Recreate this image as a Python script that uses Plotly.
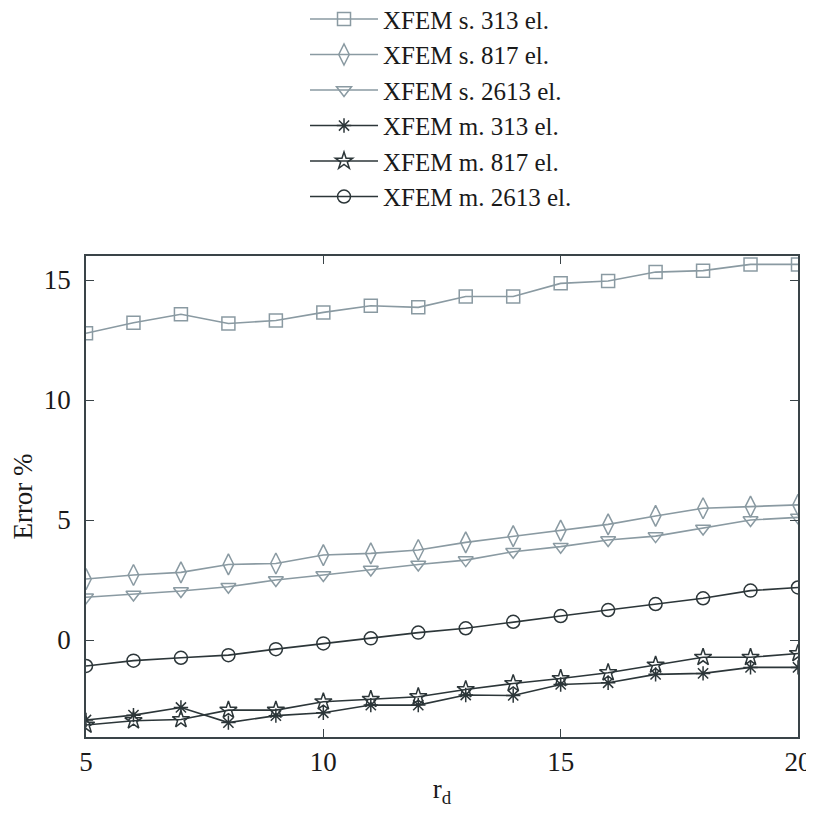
import plotly.graph_objects as go

x_vals = list(range(5, 21))

names = ["XFEM s. 313 el.", "XFEM s. 817 el.", "XFEM s. 2613 el.",
         "XFEM m. 313 el.", "XFEM m. 817 el.", "XFEM m. 2613 el."]

s_313 = [12.78, 13.22, 13.57, 13.19, 13.31, 13.65, 13.93, 13.86, 14.31, 14.31,
         14.86, 14.96, 15.33, 15.39, 15.65, 15.65]
s_817 = [2.54, 2.71, 2.82, 3.15, 3.19, 3.54, 3.61, 3.75, 4.07, 4.33,
         4.56, 4.82, 5.17, 5.49, 5.56, 5.63]
s_2613 = [1.78, 1.90, 2.04, 2.22, 2.50, 2.71, 2.94, 3.15, 3.33, 3.68,
          3.89, 4.17, 4.33, 4.65, 5.00, 5.11]
m_313 = [-3.33, -3.13, -2.81, -3.44, -3.15, -3.03, -2.71, -2.71, -2.29, -2.31,
         -1.85, -1.78, -1.43, -1.39, -1.14, -1.14]
m_817 = [-3.54, -3.36, -3.31, -2.92, -2.92, -2.57, -2.47, -2.36, -2.06, -1.81,
         -1.60, -1.36, -1.04, -0.72, -0.72, -0.56]
m_2613 = [-1.08, -0.86, -0.74, -0.63, -0.38, -0.14, 0.07, 0.31, 0.49, 0.76,
          1.00, 1.25, 1.50, 1.74, 2.06, 2.19]

y_ticks = [0, 5, 10, 15]
x_ticks = [5, 10, 15, 20]

series = [s_313, s_817, s_2613, m_313, m_817, m_2613]
grey = "#8a9aa2"
dark = "#2c3639"
colors = [grey, grey, grey, dark, dark, dark]
symbols = ["square-open", "diamond-tall-open", "triangle-down-open",
           "asterisk-open", "star-open", "circle-open"]
sizes = [13, 15, 13, 12, 13, 13]

fig = go.Figure()
for name, ys, c, sym, sz in zip(names, series, colors, symbols, sizes):
    fig.add_trace(go.Scatter(
        x=x_vals, y=ys, name=name, mode="lines+markers",
        line=dict(color=c, width=1.6),
        marker=dict(symbol=sym, size=sz, color=c, line=dict(color=c, width=1.5)),
    ))

font_family = "Liberation Serif"
axis_common = dict(
    showline=True, linecolor="#3a4448", linewidth=1.5, mirror="ticks",
    ticks="inside", ticklen=8, tickcolor="#3a4448", tickwidth=1.2,
    showgrid=False, zeroline=False, ticklabeloverflow="allow",
    tickfont=dict(family=font_family, size=27, color="#1a1a1a"),
)

fig.update_layout(
    width=806, height=800,
    paper_bgcolor="white", plot_bgcolor="white",
    margin=dict(l=78, r=16, t=248, b=71, autoexpand=False),
    font=dict(family=font_family, color="#1a1a1a"),
    xaxis=dict(range=[5, 20], tickvals=x_ticks,
               title=dict(text="r<sub>d</sub>", font=dict(family=font_family, size=27),
                          standoff=4),
               **axis_common),
    yaxis=dict(range=[-4.04, 16], tickvals=y_ticks, ticklabelstandoff=8,
               title=dict(text="Error %", font=dict(family=font_family, size=27),
                          standoff=10),
               **axis_common),
    showlegend=True,
    legend=dict(x=0.3076, y=1.54, xanchor="left", yanchor="top",
                font=dict(family=font_family, size=25, color="#1a1a1a"),
                bgcolor="rgba(0,0,0,0)", borderwidth=0,
                itemwidth=68, tracegroupgap=0),
)

fig.write_html("out.html")
